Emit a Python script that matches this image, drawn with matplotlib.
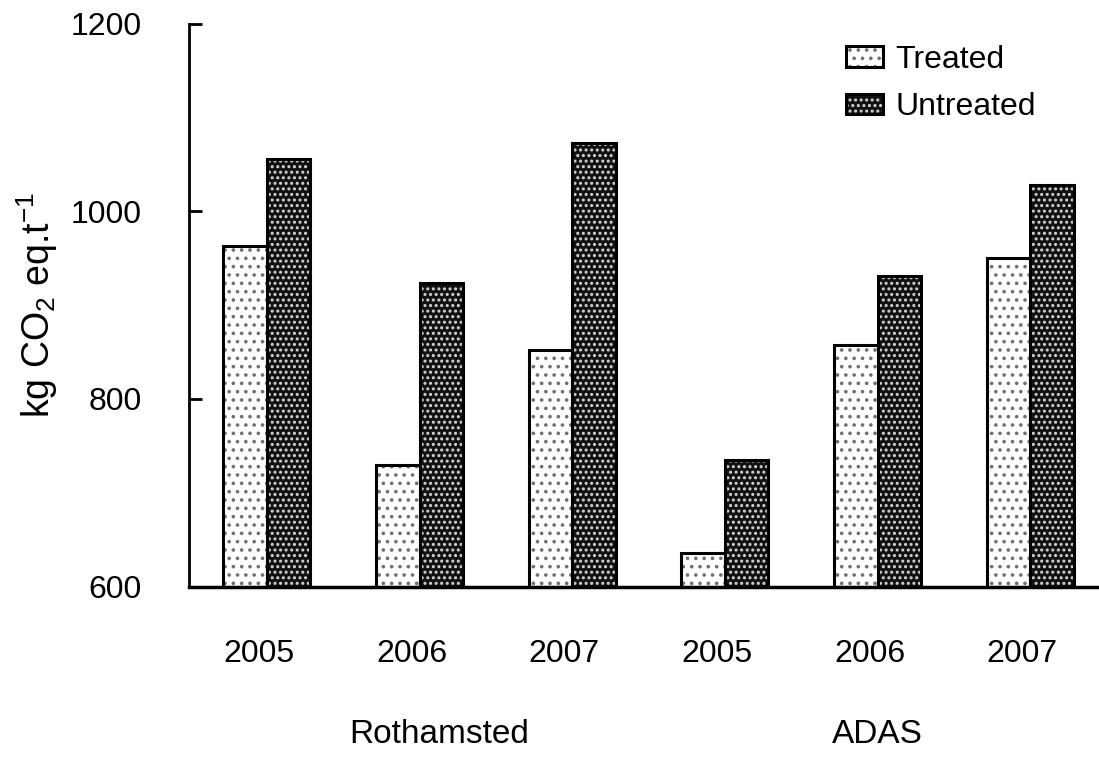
import matplotlib
matplotlib.use("Agg")
import matplotlib.pyplot as plt
import matplotlib.transforms as mtransforms
import numpy as np

plt.rcParams['font.family'] = ['Liberation Sans', 'DejaVu Sans']
plt.rcParams['mathtext.fontset'] = 'custom'
plt.rcParams['mathtext.rm'] = 'Liberation Sans'
plt.rcParams['mathtext.it'] = 'Liberation Sans'
plt.rcParams['hatch.linewidth'] = 1.4

# data
years = ["2005", "2006", "2007", "2005", "2006", "2007"]
sites = ["Rothamsted", "ADAS"]
treated = [963, 730, 852, 636, 857, 950]
untreated = [1056, 924, 1073, 735, 931, 1028]

x = np.arange(len(years))
w = 0.285

fig = plt.figure(figsize=(10.99, 7.6), dpi=100)
ax = fig.add_axes([0.172, 0.228, 0.828, 0.741])

# treated: white with grey dots
b1 = ax.bar(x - w / 2, np.array(treated) - 600, w, bottom=600, color="white",
            hatch="..", edgecolor="#707070", linewidth=0)
o1 = ax.bar(x - w / 2, np.array(treated) - 600, w, bottom=600, fill=False,
            edgecolor="black", linewidth=2.2)
# untreated: dark with light dots
b2 = ax.bar(x + w / 2, np.array(untreated) - 600, w, bottom=600, color="#121212",
            hatch="...", edgecolor="#d8d8d8", linewidth=0)
o2 = ax.bar(x + w / 2, np.array(untreated) - 600, w, bottom=600, fill=False,
            edgecolor="black", linewidth=2.2)

ax.set_xlim(-0.51, 5.45)
ax.set_ylim(600, 1200)
ax.set_yticks([600, 800, 1000, 1200])
ax.set_xticks(x)
ax.set_xticklabels(years)
ax.tick_params(axis="y", direction="in", length=9, width=2, labelsize=23, pad=34)
ax.tick_params(axis="x", length=0, labelsize=23, pad=38)
shift = mtransforms.ScaledTranslation(-0.08, 0, fig.dpi_scale_trans)
for lab in ax.get_xticklabels():
    lab.set_transform(lab.get_transform() + shift)
for s in ["top", "right"]:
    ax.spines[s].set_visible(False)
ax.spines["left"].set_linewidth(2)
ax.spines["bottom"].set_linewidth(2.5)

ax.set_ylabel(r"kg CO$_\mathregular{2}$ eq.t$^\mathregular{-1}$", fontsize=27, labelpad=8)

ax.text(1.13, -0.263, sites[0], transform=ax.get_xaxis_transform(),
        ha="center", va="center", fontsize=24)
ax.text(4.0, -0.263, sites[1], transform=ax.get_xaxis_transform(),
        ha="center", va="center", fontsize=24)

leg = ax.legend([(b1[0], o1[0]), (b2[0], o2[0])], ["Treated", "Untreated"],
                loc="upper right", bbox_to_anchor=(0.945, 0.985), frameon=False,
                fontsize=23, handlelength=1.15, handleheight=0.6,
                handletextpad=0.4, labelspacing=0.55, borderaxespad=0)

fig.savefig("out.png", dpi=100)
